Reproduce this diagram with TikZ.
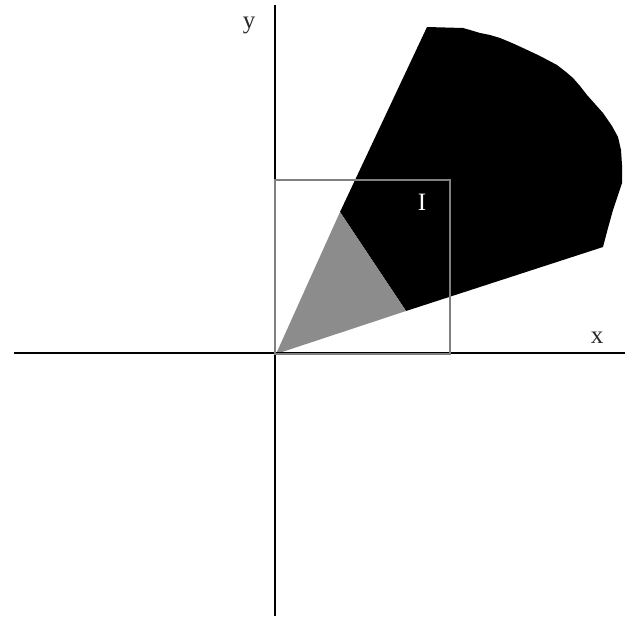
\documentclass[tikz,border=0pt]{standalone}
\usepackage{fontspec}
\setmainfont{Liberation Serif}
\definecolor{boxgray}{RGB}{128,128,128}
\definecolor{trigray}{RGB}{140,140,140}
\definecolor{lblgray}{RGB}{40,40,40}
\begin{document}
\begin{tikzpicture}[x=1pt,y=-1pt,
  axis/.style={line width=2pt,black},
  boxline/.style={line width=2pt,draw=boxgray},
  lbl/.style={font=\fontsize{25}{28}\selectfont,text=lblgray,inner sep=0pt}]
\useasboundingbox (0,0) rectangle (636,618);
% black region
\fill[black] (340,212) -- (427,27) -- (463,28) -- (470,30) -- (480,33) -- (490,35) -- (500,38) -- (512,43)
  -- (523,48) -- (540,56) -- (557,65) -- (566,72) -- (573,78) -- (580,86) -- (587,95) -- (595,104)
  -- (603,113) -- (612,126) -- (618,137) -- (621,150) -- (622,165) -- (622,183) -- (617,198) -- (613,210)
  -- (608,228) -- (603,247) -- (406,311) -- cycle;
% gray triangle
\fill[trigray] (276,354) -- (340,212) -- (406,311) -- cycle;
% axes
\coordinate (xl) at (14,353);
\coordinate (xr) at (625,353);
\coordinate (yt) at (275,5);
\coordinate (yb) at (275,616);
\draw[axis] (xl) -- (xr);
\draw[axis] (yt) -- (yb);
% box
\draw[boxline] (275,180) rectangle (450,354);
% labels
\node[lbl] (ylab) at (249,25) {y};
\node[lbl] (xlab) at (597,338) {x};
\node[lbl,text=white] (ilab) at (422,202) {I};
\end{tikzpicture}
\end{document}
